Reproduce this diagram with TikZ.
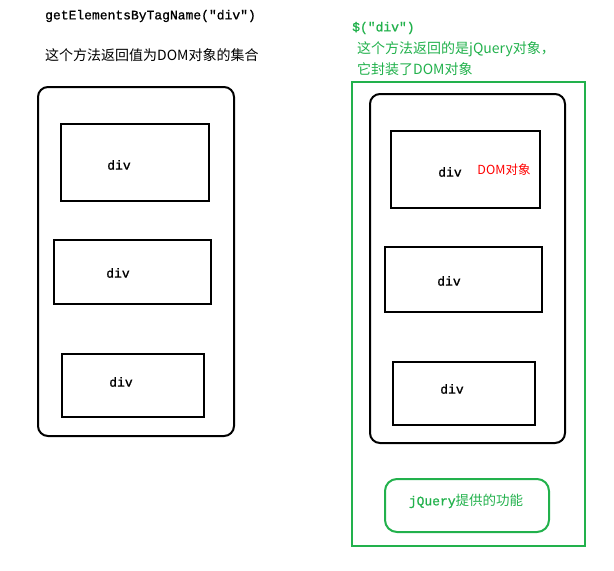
\documentclass[tikz,border=0pt]{standalone}
\usepackage{fontspec}
\newfontfamily\mymono[FakeBold=1]{Liberation Mono}
\newfontfamily\cjk{Noto Sans CJK SC}
\definecolor{pgreen}{RGB}{34,177,76}
\definecolor{pred}{RGB}{255,0,0}
\begin{document}
\begin{tikzpicture}[x=1pt,y=-1pt,
  box/.style={draw=black,line width=2pt},
  rbox/.style={draw=black,line width=2pt,rounded corners=10pt},
  gbox/.style={draw=pgreen,line width=2pt},
  grbox/.style={draw=pgreen,line width=2pt,rounded corners=12pt},
  mono/.style={font=\mymono\fontsize{13}{15}\selectfont,inner sep=0pt},
  cn/.style={font=\cjk\fontsize{14}{16}\selectfont,inner sep=0pt},
]
\useasboundingbox (0,0) rectangle (614,571);
% left side
\node[mono,anchor=west] (ltitle) at (45,16) {getElementsByTagName("div")};
\node[cn,anchor=west] (ldesc) at (45,55) {这个方法返回值为DOM对象的集合};
\draw[rbox] (38,87) rectangle (234,436);
\node[box,minimum width=148pt,minimum height=77pt,anchor=north west] (l1) at (60,123) {};
\node[box,minimum width=157pt,minimum height=64pt,anchor=north west] (l2) at (53,239) {};
\node[box,minimum width=142pt,minimum height=63pt,anchor=north west] (l3) at (61,353) {};
\node[mono] (l1t) at (119,165) {div};
\node[mono] (l2t) at (118,273) {div};
\node[mono] (l3t) at (121,382) {div};
% right side
\node[mono,anchor=west,text=pgreen] (rtitle) at (352,28) {\$("div")};
\node[cn,anchor=west,text=pgreen] (rdesc1) at (357,49) {这个方法返回的是jQuery对象，};
\node[cn,anchor=west,text=pgreen] (rdesc2) at (357,69) {它封装了DOM对象};
\draw[gbox] (352,82) rectangle (585,546);
\draw[rbox] (370,94) rectangle (565,443);
\node[box,minimum width=149pt,minimum height=77pt,anchor=north west] (r1) at (390,130) {};
\node[box,minimum width=157pt,minimum height=65pt,anchor=north west] (r2) at (384,246) {};
\node[box,minimum width=142pt,minimum height=63pt,anchor=north west] (r3) at (392,361) {};
\node[mono] (r1t) at (450,172) {div};
\node[cn,text=pred,font=\cjk\fontsize{12.5}{14}\selectfont] (r1d) at (504,170) {DOM对象};
\node[mono] (r2t) at (449,281) {div};
\node[mono] (r3t) at (452,389) {div};
\node[grbox,minimum width=164pt,minimum height=53pt,anchor=north west] (rj) at (384,478) {};
\node[mono,text=pgreen] (rjt) at (466,501) {jQuery{\cjk\fontsize{13.5}{15}\selectfont 提供的功能}};
\end{tikzpicture}
\end{document}
